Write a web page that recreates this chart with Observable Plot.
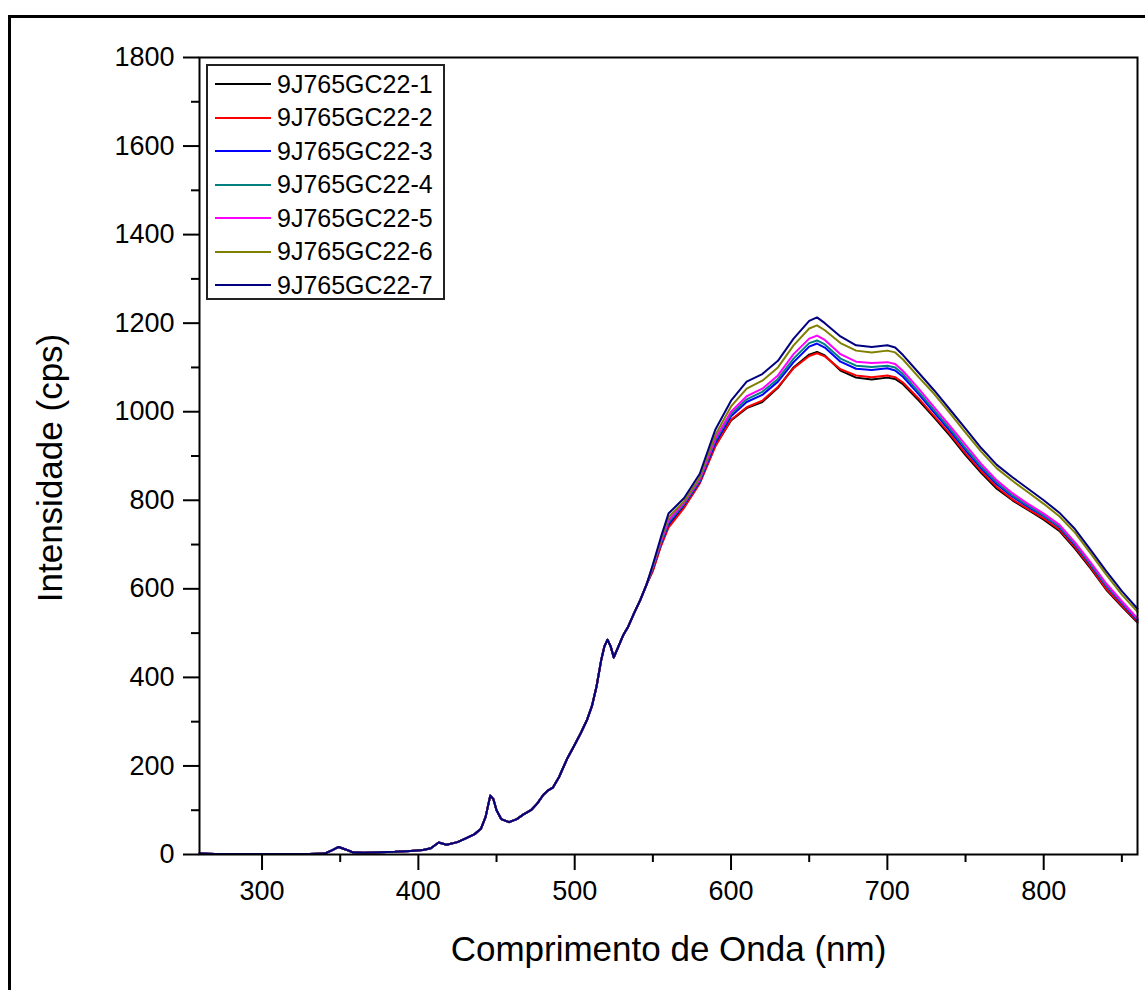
<!DOCTYPE html>
<html><head><meta charset="utf-8">
<script src="https://cdn.jsdelivr.net/npm/d3@7"></script>
<script src="https://cdn.jsdelivr.net/npm/@observablehq/plot@0.6"></script>
<style>
html,body{margin:0;padding:0;background:#fff;overflow:hidden;width:1145px;height:990px;}
#wrap{position:relative;width:1145px;height:990px;font-family:"Liberation Sans",Arial,sans-serif;color:#000;}
#outer{position:absolute;left:8px;top:15px;width:1200px;height:1100px;border-left:3px solid #000;border-top:3px solid #000;}
#chart{position:absolute;left:0;top:0;}
#legend{position:absolute;left:206px;top:64px;width:235px;height:232px;border:2px solid #222;background:#fff;}
.row{position:absolute;left:0;height:30px;display:flex;align-items:center;font-size:25px;white-space:nowrap;}
.row svg{margin-left:7px;margin-right:6px;}
</style></head>
<body><div id="wrap"><div id="outer"></div><div id="chart"></div><div id="legend"></div></div>
<script>
const seriesNames = ["9J765GC22-1","9J765GC22-2","9J765GC22-3","9J765GC22-4","9J765GC22-5","9J765GC22-6","9J765GC22-7"];
const seriesColors = ["#000000","#ff0000","#0000ff","#008080","#ff00ff","#808000","#000080"];
const xTicks = [300,400,500,600,700,800];
const xMinor = [350,450,550,650,750,850];
const yTicks = [0,200,400,600,800,1000,1200,1400,1600,1800];
const yMinor = [100,300,500,700,900,1100,1300,1500,1700];
const xTitle = "Comprimento de Onda (nm)";
const yTitle = "Intensidade (cps)";

// shared part (all spectra coincide)
const lowWavelength = [260,270,280,290,300,310,320,330,340,345,349,353,358,365,375,385,395,403,408,413,418,425,430,436,440,443,446,448,450,453,458,463,467,472,476,480,483,486,490,495,500,504,508,511,514,517,519,521,523,525,528,531,534,538,542,546];
const lowValues =     [2,1,1,1,1,1,1,1,2,10,17,12,5,4,5,6,8,10,14,27,22,28,36,46,58,85,133,125,100,80,73,80,90,100,115,135,145,151,175,215,248,275,305,335,380,440,470,485,470,445,470,495,513,545,575,610];

// part where spectra separate
const highWavelength = [550,555,560,570,580,590,600,610,620,630,640,650,655,660,670,680,690,700,705,710,720,730,740,750,760,770,780,790,800,810,820,830,840,850,860];
const high1 = [642,697,741,785,840,924,980,1008,1022,1054,1100,1129,1135,1127,1093,1077,1073,1077,1074,1062,1026,987,946,902,862,826,800,778,756,731,691,646,598,560,524];
const high2 = [640,695,738,783,838,922,982,1010,1025,1056,1098,1126,1132,1125,1096,1082,1078,1082,1078,1066,1030,990,950,906,866,830,802,780,759,734,694,649,600,562,526];
const high3 = [646,700,746,790,842,930,990,1022,1038,1068,1112,1147,1154,1145,1113,1097,1094,1098,1093,1079,1040,998,957,913,872,836,808,785,764,739,699,654,606,567,529];
const high4 = [648,702,750,792,845,935,995,1028,1045,1074,1120,1155,1161,1152,1120,1104,1101,1104,1100,1085,1045,1003,962,918,876,840,811,788,766,741,701,656,608,569,531];
const high5 = [650,705,755,795,848,940,1000,1035,1052,1082,1130,1165,1172,1162,1130,1113,1110,1112,1108,1092,1052,1010,968,925,882,845,816,792,770,745,705,660,612,572,533];
const high6 = [652,710,762,798,852,948,1012,1052,1070,1100,1150,1188,1195,1184,1155,1138,1134,1138,1134,1118,1078,1040,997,953,910,872,844,818,792,764,727,680,632,587,548];
const high7 = [655,715,770,805,860,960,1025,1068,1085,1115,1165,1205,1213,1200,1170,1150,1146,1150,1145,1128,1088,1048,1005,962,918,880,852,826,800,772,735,688,640,595,555];
const highSeries = [high1,high2,high3,high4,high5,high6,high7];

const rows = [];
seriesNames.forEach((name, si) => {
  lowWavelength.forEach((w, i) => rows.push({series: name, wl: w, v: lowValues[i]}));
  highWavelength.forEach((w, i) => rows.push({series: name, wl: w, v: highSeries[si][i]}));
});

const font = "Liberation Sans, Arial, sans-serif";
const chart = Plot.plot({
  width: 1145, height: 990,
  marginLeft: 199, marginRight: 8, marginTop: 57, marginBottom: 136,
  style: {fontFamily: font, background: "transparent", color: "#000", overflow: "visible"},
  x: {domain: [260, 860]},
  y: {domain: [0, 1800]},
  color: {domain: seriesNames, range: seriesColors},
  marks: [
    Plot.axisX(xTicks, {tickSize: 16, tickPadding: 10, fontSize: 27, label: null, tickFormat: d => String(d), strokeWidth: 2}),
    Plot.axisX(xMinor, {tickSize: 8, label: null, tickFormat: () => "", strokeWidth: 2}),
    Plot.axisY(yTicks, {tickSize: 16, tickPadding: 9, fontSize: 27, label: null, tickFormat: d => String(d), strokeWidth: 2}),
    Plot.axisY(yMinor, {tickSize: 8, label: null, tickFormat: () => "", strokeWidth: 2}),
    Plot.line(rows, {x: "wl", y: "v", z: "series", stroke: "series", strokeWidth: 2, curve: "linear"}),
    Plot.frame({stroke: "#000", strokeWidth: 2}),
    Plot.text([xTitle], {text: d => d, frameAnchor: "bottom", lineAnchor: "middle", textAnchor: "middle", dy: 95, fontSize: 35, fill: "#000"}),
    Plot.text([yTitle], {text: d => d, frameAnchor: "left", lineAnchor: "middle", textAnchor: "middle", dx: -149, dy: 12, rotate: -90, fontSize: 35, fill: "#000"})
  ]
});
document.getElementById("chart").appendChild(chart);

const legend = document.getElementById("legend");
seriesNames.forEach((name, i) => {
  const row = document.createElement("div");
  row.className = "row";
  row.style.top = (3 + i * 33.5) + "px";
  row.innerHTML = `<svg width="56" height="4"><line x1="0" x2="56" y1="2" y2="2" stroke="${seriesColors[i]}" stroke-width="2"/></svg><span>${name}</span>`;
  legend.appendChild(row);
});
</script></body></html>
